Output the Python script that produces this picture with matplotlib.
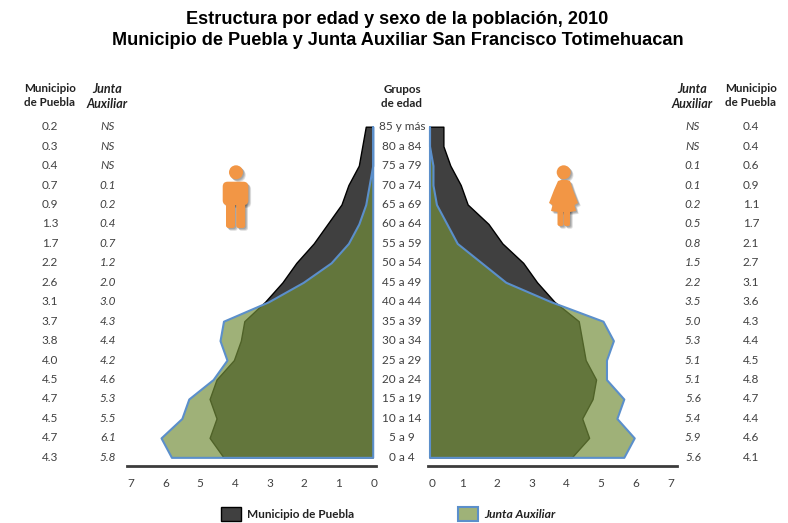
#!/usr/bin/env python3
#
# Population pyramid: Municipio de Puebla vs Junta Auxiliar
#
import matplotlib
matplotlib.use('Agg')
import matplotlib.pyplot as plt
from matplotlib.patches import Circle, FancyBboxPatch, Polygon, Rectangle
from matplotlib.transforms import ScaledTranslation, blended_transform_factory

W, H = 788, 523

# Data, top row first
grupos = ['85 y más', '80 a 84', '75 a 79', '70 a 74', '65 a 69', '60 a 64',
          '55 a 59', '50 a 54', '45 a 49', '40 a 44', '35 a 39', '30 a 34',
          '25 a 29', '20 a 24', '15 a 19', '10 a 14', '5 a 9', '0 a 4']
h_mun = [0.2, 0.3, 0.4, 0.7, 0.9, 1.3, 1.7, 2.2, 2.6, 3.1, 3.7, 3.8, 4.0, 4.5,
         4.7, 4.5, 4.7, 4.3]
h_jun = [0.0, 0.0, 0.0, 0.1, 0.2, 0.4, 0.7, 1.2, 2.0, 3.0, 4.3, 4.4, 4.2, 4.6,
         5.3, 5.5, 6.1, 5.8]
m_mun = [0.4, 0.4, 0.6, 0.9, 1.1, 1.7, 2.1, 2.7, 3.1, 3.6, 4.3, 4.4, 4.5, 4.8,
         4.7, 4.4, 4.6, 4.1]
m_jun = [0.0, 0.0, 0.1, 0.1, 0.2, 0.5, 0.8, 1.5, 2.2, 3.5, 5.0, 5.3, 5.1, 5.1,
         5.6, 5.4, 5.9, 5.6]
ticks = [0, 1, 2, 3, 4, 5, 6, 7]

sans = 'Lato'
dark = '#404040'
green = (0.455, 0.561, 0.231, 0.69)
blue = '#5B8FCB'
orange = '#F29645'
grey = '#404040'

fig = plt.figure(figsize=(W / 100, H / 100), dpi=100)

# Overlay in pixels, for texts and the pictograms
over = fig.add_axes([0, 0, 1, 1], zorder=0)
over.set_xlim(0, W)
over.set_ylim(H, 0)
over.axis('off')


def make_side(x0, x1, xlim):
    """ Axes from pixel x0 to x1, bottom spine at the axis line. """
    ax = fig.add_axes([x0 / W, 1 - 465.7 / H, (x1 - x0) / W, (465.7 - 120) / H],
                      zorder=1)
    ax.patch.set_alpha(0)
    ax.set_xlim(*xlim)
    # Row spacing 19.45 px, row 0 (85 y mas) at 126.7 px
    ax.set_ylim((465.7 - 126.7) / 19.45, (120 - 126.7) / 19.45)
    for s in ['top', 'left', 'right']:
        ax.spines[s].set_visible(False)
    ax.spines['bottom'].set_linewidth(2)
    ax.spines['bottom'].set_color('#3c3c3c')
    ax.set_yticks([])
    ax.set_xticks(ticks)
    ax.tick_params(axis='x', length=0, pad=9, labelsize=8.5, labelcolor=grey)
    for t in ax.get_xticklabels():
        t.set_fontfamily(sans)
    return ax


def nudge(label, px):
    """ Shift a tick label sideways by some pixels. """
    label.set_transform(label.get_transform()
                        + ScaledTranslation(px / 100, 0, fig.dpi_scale_trans))


rows = list(range(len(grupos)))
scale = 34.7
axl = make_side(127, 376, ((372.7 - 127) / scale, (372.7 - 376) / scale))
axr = make_side(428, 677, ((428 - 429.5) / scale, (677 - 429.5) / scale))

for ax, mun, jun in ((axl, h_mun, h_jun), (axr, m_mun, m_jun)):
    ax.fill_betweenx(rows, 0, mun, facecolor=dark, edgecolor='black', lw=1.0)
    ax.fill_betweenx(rows, 0, jun, facecolor=green, edgecolor=blue, lw=1.5)

# Tick labels do not sit quite on the scale in the original
for t in axl.get_xticklabels():
    nudge(t, 1)
for t in axr.get_xticklabels():
    nudge(t, 2.5 if t.get_text() == '0' else -1.8)

# Table columns: x in pixels, y from the rows of the pyramid
tr = blended_transform_factory(over.transData, axl.transData)


def labels(fmt):
    return ['NS' if v == 0 else f'{v:.1f}' for v in fmt]


def column(x, values, style='normal'):
    for i, s in enumerate(values):
        over.text(x, i, s, transform=tr, ha='center', va='center', fontsize=8.5,
                  color=grey, style=style, family=sans, clip_on=False)


column(50, labels(h_mun))
column(108, labels(h_jun), 'italic')
column(402, grupos)
column(693, labels(m_jun), 'italic')
column(751, labels(m_mun))

# Headers
head = dict(ha='center', va='center', fontweight='bold', family=sans,
            color='#222222', linespacing=1.3)
over.text(50, 95.5, 'Municipio\nde Puebla', fontsize=8.4, **head)
over.text(107.5, 96.5, 'Junta\nAuxiliar', fontsize=9, style='italic', **head)
over.text(402, 96.5, 'Grupos\nde edad', fontsize=8.4, **head)
over.text(692.5, 96.5, 'Junta\nAuxiliar', fontsize=9, style='italic', **head)
over.text(751, 95.5, 'Municipio\nde Puebla', fontsize=8.4, **head)

# Title
over.text(397.5, 30, 'Estructura por edad y sexo de la población, 2010\n'
          'Municipio de Puebla y Junta Auxiliar San Francisco Totimehuacan',
          ha='center', va='center', fontsize=13.1, fontweight='bold',
          family='Liberation Sans', linespacing=1.25)

# Legend
over.add_patch(Rectangle((221, 507), 20, 14, facecolor=dark, edgecolor='black',
                         lw=1))
over.text(247, 515, 'Municipio de Puebla', va='center', fontsize=8.5,
          fontweight='bold', family=sans, color='#222222')
over.add_patch(Rectangle((458.5, 507), 20, 14, facecolor='#9FB278',
                         edgecolor=blue, lw=1.5))
over.text(484.5, 515, 'Junta Auxiliar', va='center', fontsize=8.7,
          fontweight='bold', style='italic', family=sans, color='#222222')


def man(dx, dy, **kw):
    over.add_patch(Circle((236 + dx, 172.3 + dy), 7, lw=0, **kw))
    over.add_patch(FancyBboxPatch((225.7 + dx, 184.7 + dy), 19.6, 17.5,
                                  boxstyle='round,pad=3,rounding_size=5',
                                  lw=0, **kw))
    over.add_patch(FancyBboxPatch((227.5 + dx, 200 + dy), 6, 26.5,
                                  boxstyle='round,pad=1.5,rounding_size=2.5',
                                  lw=0, **kw))
    over.add_patch(FancyBboxPatch((237.7 + dx, 200 + dy), 6, 26.5,
                                  boxstyle='round,pad=1.5,rounding_size=2.5',
                                  lw=0, **kw))


def woman(dx, dy, **kw):
    over.add_patch(Circle((563.7 + dx, 172.3 + dy), 7, lw=0, **kw))
    body = [(558, 181), (561, 180), (567, 180), (570, 181), (573, 190),
            (578, 203), (574.5, 205), (576, 211), (570, 212), (558, 212),
            (551, 211), (552.5, 205), (549, 203), (554, 190)]
    over.add_patch(Polygon([(x + dx, y + dy) for x, y in body], closed=True,
                           lw=0, **kw))
    over.add_patch(FancyBboxPatch((559 + dx, 208 + dy), 3, 16.5,
                                  boxstyle='round,pad=1.5,rounding_size=2',
                                  lw=0, **kw))
    over.add_patch(FancyBboxPatch((565.5 + dx, 208 + dy), 3, 16.5,
                                  boxstyle='round,pad=1.5,rounding_size=2',
                                  lw=0, **kw))


# Soft shadow behind each pictogram, then the figure itself
for d in (1.0, 1.6, 2.2, 2.8):
    man(d, d, color='black', alpha=0.10)
    woman(d, d, color='black', alpha=0.10)
man(0, 0, color=orange)
woman(0, 0, color=orange)

fig.savefig('out.png', dpi=100)
